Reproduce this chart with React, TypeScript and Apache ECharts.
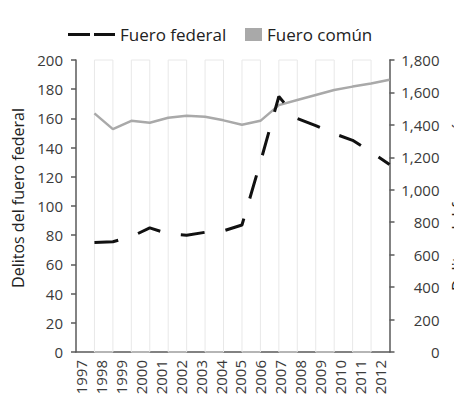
import React, { useEffect, useRef } from 'react';
import * as echarts from 'echarts';

// Year labels shown under the plot
const years = ['1997', '1998', '1999', '2000', '2001', '2002', '2003', '2004', '2005', '2006', '2007', '2008', '2009', '2010', '2011', '2012'];
// Plot slots (gridline positions) where the data points sit
const slots = [1, 2, 3, 4, 5, 6, 7, 8, 9, 10, 11, 12, 13, 14, 15, 16, 17];
// Delitos del fuero federal (left axis)
const federal = [75, 75.5, 79, 85, 81, 80, 82, 83, 87, 130, 175, 160, 155, 149.5, 145, 137, 128.5];
// Delitos del fuero común (right axis)
const comun = [1471, 1374, 1425, 1413, 1444, 1456, 1450, 1428, 1401, 1425, 1522, 1553, 1584, 1615, 1636, 1655, 1678];
// Axis scales
const leftAxis = { min: 0, max: 200, step: 20 };
const rightAxis = { min: 0, max: 1800, step: 200 };

const FONT = 'Open Sans';

export default function App() {
  const ref = useRef<HTMLDivElement>(null);
  useEffect(() => {
    if (!ref.current) return;
    const chart = echarts.init(ref.current, null, { renderer: 'svg' });
    const bands: any[] = [];
    for (let i = 0; i + 1 < slots.length - 1; i += 2) {
      bands.push([
        { xAxis: slots[i], yAxis: leftAxis.min },
        { xAxis: slots[i + 1], yAxis: leftAxis.max },
      ]);
    }
    const axisColor = '#5a5a5a';
    const labelColor = '#3a3a3a';
    chart.setOption({
      animation: false,
      backgroundColor: '#fff',
      textStyle: { fontFamily: FONT },
      graphic: [
        {
          type: 'line',
          shape: { x1: 10, y1: 3.5, x2: 462, y2: 3.5 },
          style: { stroke: '#bdbdbd', lineWidth: 1 },
        },
      ],
      legend: [
        {
          data: [{ name: 'Fuero federal', icon: 'path://M0,0H22V3H0Z M26,0H47V3H26Z' }],
          left: 63,
          top: 21,
          itemWidth: 47,
          itemHeight: 3,
          itemStyle: { borderWidth: 0 },
          textStyle: { fontFamily: FONT, fontSize: 17, color: '#222' },
        },
        {
          data: [{ name: 'Fuero común', icon: 'rect' }],
          left: 240,
          top: 21,
          itemWidth: 17,
          itemHeight: 13,
          itemStyle: { borderWidth: 0 },
          textStyle: { fontFamily: FONT, fontSize: 17, color: '#222' },
        },
      ],
      grid: [
        { left: 76, width: 313.5, top: 60, height: 292, containLabel: false, outerBoundsMode: 'none' },
        { left: 81, right: 82, top: 60, height: 292, containLabel: false, outerBoundsMode: 'none' },
      ],
      xAxis: [
        {
          type: 'value',
          gridIndex: 0,
          min: 0,
          max: slots.length,
          interval: 1,
          axisLine: { show: true, onZero: false, lineStyle: { color: axisColor, width: 1.5 } },
          axisTick: { show: false },
          axisLabel: { show: false },
          splitLine: { show: false },
        },
        {
          type: 'category',
          gridIndex: 1,
          data: years,
          boundaryGap: false,
          axisLine: { show: false },
          axisTick: { show: false },
          splitLine: { show: false },
          axisLabel: {
            rotate: 90,
            margin: 8,
            interval: 0,
            fontFamily: FONT,
            fontSize: 15,
            color: labelColor,
          },
        },
      ],
      yAxis: [
        {
          type: 'value',
          gridIndex: 0,
          min: leftAxis.min,
          max: leftAxis.max,
          interval: leftAxis.step,
          position: 'left',
          name: 'Delitos del fuero federal',
          nameLocation: 'middle',
          nameGap: 45,
          nameTextStyle: { fontFamily: FONT, fontSize: 16, color: '#222', padding: [0, 0, 0, 16] },
          axisLine: { show: true, lineStyle: { color: axisColor, width: 1.5 } },
          axisTick: { show: true, length: 5, lineStyle: { color: axisColor, width: 1.5 } },
          axisLabel: { margin: 13, fontFamily: FONT, fontSize: 15, color: labelColor },
          splitLine: { show: false },
        },
        {
          type: 'value',
          gridIndex: 0,
          min: rightAxis.min,
          max: rightAxis.max,
          interval: rightAxis.step,
          position: 'right',
          name: 'Delitos del fuero común',
          nameLocation: 'middle',
          nameGap: 60,
          nameTextStyle: { fontFamily: FONT, fontSize: 16, color: '#222', padding: [0, 0, 0, 9] },
          axisLine: { show: true, lineStyle: { color: axisColor, width: 1.5 } },
          axisTick: { show: true, length: 5, lineStyle: { color: axisColor, width: 1.5 } },
          axisLabel: {
            margin: 50,
            align: 'right',
            fontFamily: FONT,
            fontSize: 15,
            color: labelColor,
            formatter: (v: number) => v.toLocaleString('en-US'),
          },
          splitLine: { show: false },
        },
        {
          type: 'value',
          gridIndex: 1,
          show: false,
          min: 0,
          max: 1,
        },
      ],
      series: [
        {
          name: 'Fuero común',
          type: 'line',
          xAxisIndex: 0,
          yAxisIndex: 1,
          data: slots.map((s, i) => [s, comun[i]]),
          symbol: 'none',
          z: 2,
          itemStyle: { color: '#a9a9a9' },
          lineStyle: { color: '#a9a9a9', width: 2.5 },
        },
        {
          name: 'Fuero federal',
          type: 'line',
          xAxisIndex: 0,
          yAxisIndex: 0,
          data: slots.map((s, i) => [s, federal[i]]),
          symbol: 'none',
          z: 3,
          itemStyle: { color: '#111' },
          lineStyle: { color: '#111', width: 3, type: [24, 21], cap: 'butt' },
          markArea: {
            silent: true,
            z: 1,
            itemStyle: { color: 'rgba(0,0,0,0)', borderColor: '#e8e8e8', borderWidth: 1 },
            label: { show: false },
            data: bands,
          },
        },
      ],
    });
    return () => chart.dispose();
  }, []);
  return <div ref={ref} style={{ width: 462, height: 405, margin: -8 }} />;
}
